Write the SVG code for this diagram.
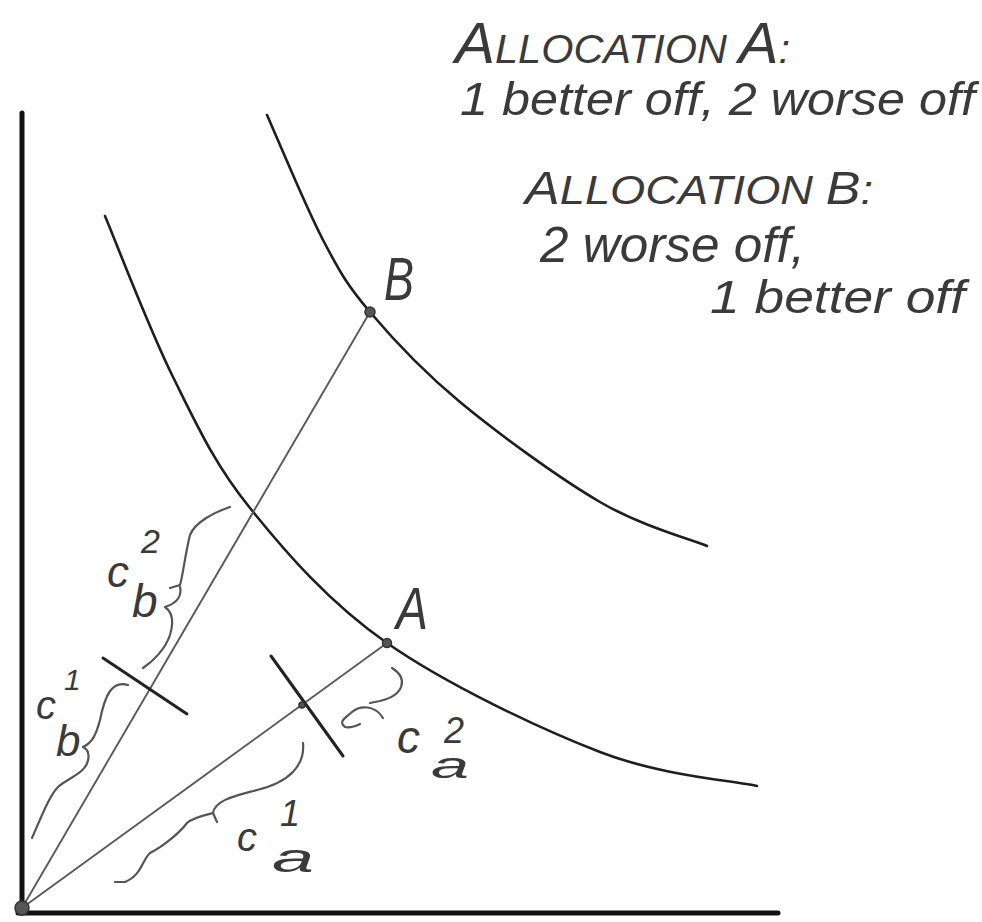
<svg xmlns="http://www.w3.org/2000/svg" width="982" height="922" viewBox="0 0 982 922">
<style>
.axis{stroke:#111;stroke-width:5;fill:none;stroke-linecap:round}
.curve{stroke:#1e1e1e;stroke-width:2.6;fill:none;stroke-linecap:round}
.ray{stroke:#5a5a5a;stroke-width:1.9;fill:none;stroke-linecap:round}
.tick{stroke:#222;stroke-width:3;fill:none;stroke-linecap:round}
.brace{stroke:#555;stroke-width:2.2;fill:none;stroke-linecap:round;stroke-linejoin:round}
.hw{font-family:"Liberation Sans","DejaVu Sans",sans-serif;font-style:italic;fill:#3a3a3a}
.dot{fill:#555;stroke:#333;stroke-width:1.5}
</style>
<rect width="982" height="922" fill="#fff"/>
<g id="axes">
<line class="axis" x1="22" y1="113" x2="22" y2="913"/>
<line class="axis" x1="18" y1="913" x2="778" y2="913"/>
</g>
<g id="indifference-curves">
<path id="curve-outer" class="curve" d="M267,115 C276.3,135.8 305.8,207.2 323,240 C340.2,272.8 347.2,285 370,312 C392.8,339 421.7,370.3 460,402 C498.3,433.7 558.8,478 600,502 C641.2,526 689.2,538.7 707,546"/>
<path id="curve-inner" class="curve" d="M105,216 C116.3,242.8 148.8,328.3 173,377 C197.2,425.7 214.3,463.7 250,508 C285.7,552.3 328.7,602.3 387,643 C445.3,683.7 538.3,728.2 600,752 C661.7,775.8 730.8,780.3 757,786"/>
</g>
<g id="connectors">
<line class="ray" x1="22" y1="908" x2="370" y2="312"/>
<line class="ray" x1="22" y1="908" x2="387" y2="643"/>
<line class="tick" x1="103" y1="658" x2="187" y2="714"/>
<line class="tick" x1="271" y1="656" x2="343" y2="756"/>
<path class="brace" d="M230,507 C215,512 195,522 190,535 C185,555 183,575 180,585 L170,588 M180,587 C182,595 178,603 165,607 C172,612 174,622 170,635 C165,650 152,662 143,668"/>
<path class="brace" d="M128,685 C112,680 105,695 100,720 C96,735 92,743 83,747 M83,747 C90,750 90,760 85,767 C80,775 65,780 58,787 C50,795 42,815 32,838"/>
<path class="brace" d="M303,743 C305,765 290,782 257,790 C235,796 215,800 213,813 L217,822 M213,813 C205,815 192,818 187,823 C178,835 160,848 150,853 C142,860 142,875 125,882 L115,882"/>
<path class="brace" d="M392,668 C408,678 405,695 380,701 L370,703 M383,718 C375,705 360,705 352,712 C345,718 338,722 345,727 C350,728 356,726 360,724"/>
</g>
<g id="node-origin"><circle class="dot" cx="22" cy="908" r="7"/></g>
<g id="node-B">
<circle class="dot" cx="370" cy="312" r="5" fill="none"/>
<text class="hw" x="384" y="300" font-size="62" textLength="30" lengthAdjust="spacingAndGlyphs">B</text>
</g>
<g id="node-A">
<circle class="dot" cx="387" cy="643" r="4.5"/>
<text class="hw" x="396" y="629" font-size="60" textLength="32" lengthAdjust="spacingAndGlyphs">A</text>
</g>
<g id="node-mid"><circle class="dot" cx="302" cy="705" r="3"/></g>
<g id="label-cb2">
<text class="hw" x="107" y="587" font-size="44">c</text>
<text class="hw" x="141" y="553" font-size="34">2</text>
<text class="hw" x="132" y="617" font-size="46">b</text>
</g>
<g id="label-cb1">
<text class="hw" x="36" y="719" font-size="40">c</text>
<text class="hw" x="64" y="690" font-size="30">1</text>
<text class="hw" x="56" y="756" font-size="44">b</text>
</g>
<g id="label-ca1">
<text class="hw" x="237" y="851" font-size="40">c</text>
<text class="hw" x="280" y="826" font-size="36">1</text>
<text class="hw" x="272" y="872" font-size="40" textLength="42" lengthAdjust="spacingAndGlyphs">a</text>
</g>
<g id="label-ca2">
<text class="hw" x="397" y="753" font-size="46">c</text>
<text class="hw" x="444" y="743" font-size="36">2</text>
<text class="hw" x="431" y="778" font-size="36" textLength="38" lengthAdjust="spacingAndGlyphs">a</text>
</g>
<g id="note-allocation-A">
<text class="hw" x="455" y="63" font-size="40" textLength="335" lengthAdjust="spacingAndGlyphs"><tspan font-size="58">A</tspan>LLOCATION <tspan font-size="58">A</tspan>:</text>
<text class="hw" x="460" y="115" font-size="46" textLength="515" lengthAdjust="spacingAndGlyphs">1 better off, 2 worse off</text>
</g>
<g id="note-allocation-B">
<text class="hw" x="525" y="204" font-size="40" textLength="348" lengthAdjust="spacingAndGlyphs"><tspan font-size="46">A</tspan>LLOCATION <tspan font-size="46">B</tspan>:</text>
<text class="hw" x="540" y="262" font-size="50" textLength="265" lengthAdjust="spacingAndGlyphs">2 worse off,</text>
<text class="hw" x="710" y="313" font-size="46" textLength="255" lengthAdjust="spacingAndGlyphs">1 better off</text>
</g>
</svg>
